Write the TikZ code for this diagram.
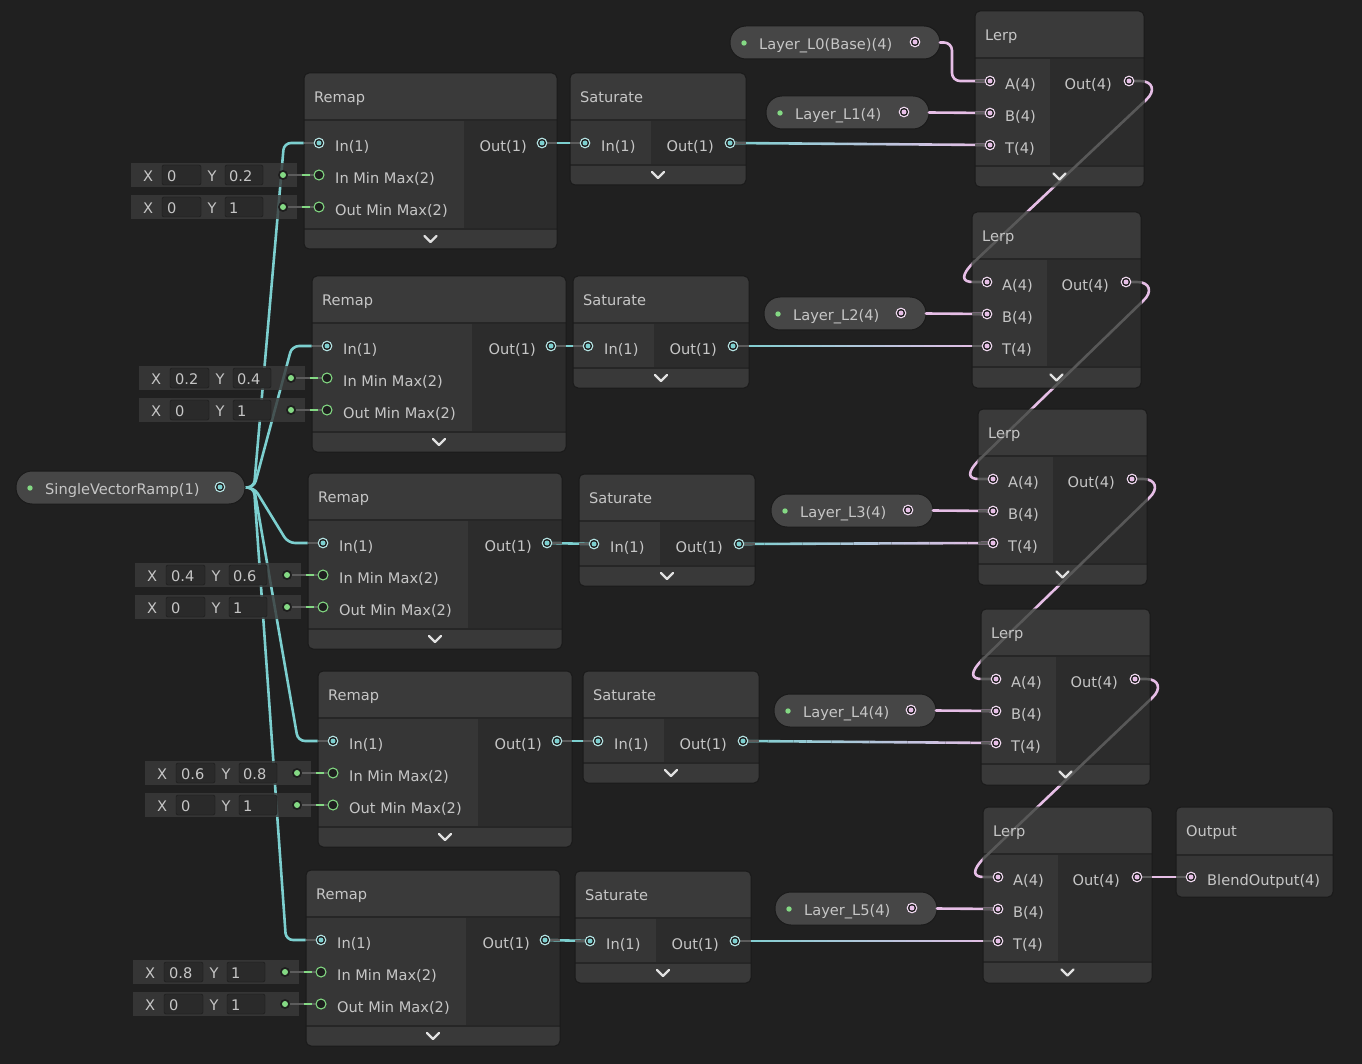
\documentclass[tikz,border=0pt]{standalone}
\usepackage{fontspec}
\setmainfont{DejaVu Sans}
\usetikzlibrary{calc}
\definecolor{bgc}{HTML}{202020}
\definecolor{headc}{HTML}{3A3A3A}
\definecolor{leftc}{HTML}{363636}
\definecolor{rightc}{HTML}{2C2C2C}
\definecolor{footc}{HTML}{393939}
\definecolor{sepc}{HTML}{262626}
\definecolor{bordc}{HTML}{1A1A1A}
\definecolor{txtc}{HTML}{C6C6C6}
\definecolor{pillc}{HTML}{464646}
\definecolor{barc}{HTML}{3A3A3A}
\definecolor{boxc}{HTML}{2A2A2A}
\definecolor{wcyan}{HTML}{7CCFCF}
\definecolor{wpink}{HTML}{E6BEE6}
\definecolor{wgreen}{HTML}{84D984}
\definecolor{stubc}{HTML}{5C5C5C}
\definecolor{chainc}{HTML}{585858}
\definecolor{portbg}{HTML}{1E1E1E}

\pgfdeclarelayer{back}
\pgfdeclarelayer{chain}
\pgfdeclarelayer{svr}
\pgfdeclarelayer{body}
\pgfdeclarelayer{wires}
\pgfdeclarelayer{stubs}
\pgfsetlayers{back,chain,svr,body,wires,stubs,main}

\tikzset{
 lbl/.style={font=\fontsize{14.6}{17}\selectfont, text=txtc, inner sep=0pt, text height=10.6pt, text depth=0pt},
 wire/.style={line width=2.6pt, line cap=round},
 cwire/.style={wire, draw=wcyan},
 pwire/.style={wire, draw=wpink},
 stub/.style={line width=2.6pt, draw=stubc},
 chev/.style={draw=white!88!black, line width=2.4pt, line cap=round, line join=round},
 frame/.style={inner sep=0pt, outer sep=0pt, draw=none},
}

\newcommand\pglyph[2]{%
 \fill[portbg] (#1) circle (5.4pt);
 \draw[#2!55!white, line width=1.1pt] (#1) circle (4.8pt);
 \fill[#2] (#1) circle (2.5pt);}
\newcommand\gport[1]{%
 \fill[portbg] (#1) circle (5.6pt);
 \draw[wgreen, line width=1.1pt] (#1) circle (5pt);}

% name x1 y1 x2 y2 split footerh title
\newcommand\gnode[8]{%
 \begin{pgfonlayer}{body}
  \begin{scope}
   \clip[rounded corners=5pt] (#2,#3) rectangle (#4,#5);
   \fill[rightc] (#2,#3) rectangle (#4,#5);
   \fill[leftc] (#2,{#3+47}) rectangle (#6,{#5-#7});
   \fill[headc] (#2,#3) rectangle (#4,{#3+47});
   \fill[footc] (#2,{#5-#7}) rectangle (#4,#5);
   \draw[sepc, line width=1.5pt] (#2,{#3+47}) -- (#4,{#3+47});
   \draw[sepc, line width=1.5pt] (#2,{#5-#7}) -- (#4,{#5-#7});
  \end{scope}
  \draw[bordc, line width=1pt, rounded corners=5pt] (#2,#3) rectangle (#4,#5);
 \end{pgfonlayer}
 \node[frame, anchor=north west, minimum width={(#4-#2)*1pt}, minimum height={(#5-#3)*1pt}] (#1) at (#2,#3) {};
 \node[lbl, anchor=west] at ({#2+10},{#3+24}) {#8};
 \draw[chev] ({(#2+#4)/2-6},{#5-#7/2-3}) -- ({(#2+#4)/2},{#5-#7/2+3}) -- ({(#2+#4)/2+6},{#5-#7/2-3});
}

\newcommand\remapnode[5]{%
 \gnode{#1}{#2}{#3}{#4}{#3+176}{#5}{20}{Remap}
 \coordinate (#1in) at ({#2+15},{#3+70});
 \coordinate (#1imm) at ({#2+15},{#3+102});
 \coordinate (#1omm) at ({#2+15},{#3+134});
 \coordinate (#1out) at ({#4-15},{#3+70});
 \node[lbl, anchor=west] at ($(#1in)+(16,3)$) {In(1)};
 \node[lbl, anchor=west] at ($(#1imm)+(16,3)$) {In Min Max(2)};
 \node[lbl, anchor=west] at ($(#1omm)+(16,3)$) {Out Min Max(2)};
 \node[lbl, anchor=east] at ($(#1out)+(-15,3)$) {Out(1)};
 \begin{pgfonlayer}{stubs}
  \draw[stub] (#1in) -- (#1in -| #1.west);
  \draw[stub] (#1out) -- (#1out -| #1.east);
 \end{pgfonlayer}
 \pglyph{#1in}{wcyan}
 \pglyph{#1out}{wcyan}
}

\newcommand\satnode[3]{%
 \gnode{#1}{#2}{#3}{#2+176}{#3+112}{#2+81}{20}{Saturate}
 \coordinate (#1in) at ({#2+15},{#3+70});
 \coordinate (#1out) at ({#2+160},{#3+70});
 \node[lbl, anchor=west] at ($(#1in)+(16,3)$) {In(1)};
 \node[lbl, anchor=east] at ($(#1out)+(-16,3)$) {Out(1)};
 \begin{pgfonlayer}{stubs}
  \draw[stub] (#1in) -- (#1in -| #1.west);
  \draw[stub] (#1out) -- (#1out -| #1.east);
 \end{pgfonlayer}
 \pglyph{#1in}{wcyan}
 \pglyph{#1out}{wcyan}
}

\newcommand\lerpnode[3]{%
 \gnode{#1}{#2}{#3}{#2+169}{#3+176}{#2+75}{21}{Lerp}
 \coordinate (#1A) at ({#2+15},{#3+70});
 \coordinate (#1B) at ({#2+15},{#3+102});
 \coordinate (#1T) at ({#2+15},{#3+134});
 \coordinate (#1out) at ({#2+154},{#3+70});
 \foreach \pp/\lname in {A/A(4),B/B(4),T/T(4)}{%
  \node[lbl, anchor=west] at ($(#1\pp)+(15,3)$) {\lname};
  \begin{pgfonlayer}{stubs}\draw[stub] (#1\pp) -- (#1\pp -| #1.west);\end{pgfonlayer}
  \pglyph{#1\pp}{wpink}}
 \node[lbl, anchor=east] at ($(#1out)+(-17,3)$) {Out(4)};
 \begin{pgfonlayer}{stubs}\draw[stub] (#1out) -- (#1out -| #1.east);\end{pgfonlayer}
 \pglyph{#1out}{wpink}
}

% name x1 y1 x2 text portcolour
\newcommand\pillnode[6]{%
 \begin{pgfonlayer}{body}
  \fill[pillc, draw=bordc, line width=1pt, rounded corners=16pt] (#2,#3) rectangle (#4,{#3+33});
 \end{pgfonlayer}
 \node[frame, anchor=north west, minimum width={(#4-#2)*1pt}, minimum height=33pt] (#1) at (#2,#3) {};
 \fill[wgreen] ({#2+14},{#3+17}) circle (2.7pt);
 \node[lbl, anchor=west] at ({#2+29},{#3+18}) {#5};
 \coordinate (#1p) at ({#4-25},{#3+16});
 \pglyph{#1p}{#6}
}

% port, name, xval, yval
\newcommand\vfield[4]{%
 \begin{pgfonlayer}{body}
  \fill[barc, fill opacity=0.82] ($(#1)+(-188,-12)$) rectangle ($(#1)+(-22,12)$);
 \end{pgfonlayer}
 \node[frame, anchor=west, minimum width=166pt, minimum height=24pt] (#2) at ($(#1)+(-188,0)$) {};
 \node[lbl, anchor=center] at ($(#1)+(-171,1)$) {X};
 \fill[boxc, draw=bordc, rounded corners=2pt] ($(#1)+(-157,-10)$) rectangle ($(#1)+(-118,10)$);
 \node[lbl, anchor=west] at ($(#1)+(-152,1)$) {#3};
 \node[lbl, anchor=center] at ($(#1)+(-107,1)$) {Y};
 \fill[boxc, draw=bordc, rounded corners=2pt] ($(#1)+(-94,-10)$) rectangle ($(#1)+(-56,10)$);
 \node[lbl, anchor=west] at ($(#1)+(-90,1)$) {#4};
 \coordinate (#2d) at ($(#1)+(-36,0)$);
 \begin{pgfonlayer}{wires}
  \draw[stub] (#2d) -- (#1);
  \draw[wgreen, line width=2.6pt] ($(#1)+(-17,0)$) -- ($(#1)+(-9,0)$);
 \end{pgfonlayer}
 \fill[portbg] (#2d) circle (5pt);
 \fill[wgreen] (#2d) circle (3pt);
 \gport{#1}
}

\newcommand\gwire[2]{%
 \foreach \gk in {0,...,19}{%
  \pgfmathsetmacro\gta{\gk/20}%
  \pgfmathsetmacro\gtb{(\gk+1)/20}%
  \pgfmathtruncatemacro\gpc{100-5*\gk-2.5}%
  \draw[wire, line cap=butt, draw=wcyan!\gpc!wpink] ($(#1)!\gta!(#2)$) -- ($(#1)!\gtb!(#2)$);}}

% chain wire path from an Out port to the next A port
\newcommand\chainpath[2]{%
 (#1) -- ($(#1)+(11,0)$) .. controls ($(#1)+(24,0)$) and ($(#1)+(27,10)$) .. ($(#1)+(17,19)$)
 -- ($(#2)+(-13,-20)$) .. controls ($(#2)+(-27,-6)$) and ($(#2)+(-25,0)$) .. ($(#2)+(-14,0)$) -- (#2)}

\begin{document}
\begin{tikzpicture}[x=1pt,y=-1pt]
\useasboundingbox (0,0) rectangle (1362,1064);
\begin{pgfonlayer}{back}
 \fill[bgc] (0,0) rectangle (1362,1064);
\end{pgfonlayer}

% ---- nodes
\remapnode{R1}{304}{73}{557}{464}
\remapnode{R2}{312}{276}{566}{472}
\remapnode{R3}{308}{473}{562}{468}
\remapnode{R4}{318}{671}{572}{478}
\remapnode{R5}{306}{870}{560}{466}

\satnode{S1}{570}{73}
\satnode{S2}{573}{276}
\satnode{S3}{579}{474}
\satnode{S4}{583}{671}
\satnode{S5}{575}{871}

\lerpnode{L1}{975}{11}
\lerpnode{L2}{972}{212}
\lerpnode{L3}{978}{409}
\lerpnode{L4}{981}{609}
\lerpnode{L5}{983}{807}

\pillnode{P0}{730}{26}{940}{Layer\_L0(Base)(4)}{wpink}
\pillnode{P1}{766}{96}{929}{Layer\_L1(4)}{wpink}
\pillnode{P2}{764}{297}{926}{Layer\_L2(4)}{wpink}
\pillnode{P3}{771}{494}{933}{Layer\_L3(4)}{wpink}
\pillnode{P4}{774}{694}{936}{Layer\_L4(4)}{wpink}
\pillnode{P5}{775}{892}{937}{Layer\_L5(4)}{wpink}
\pillnode{svr}{16}{471}{245}{SingleVectorRamp(1)}{wcyan}

\vfield{R1imm}{V1a}{0}{0.2}
\vfield{R1omm}{V1b}{0}{1}
\vfield{R2imm}{V2a}{0.2}{0.4}
\vfield{R2omm}{V2b}{0}{1}
\vfield{R3imm}{V3a}{0.4}{0.6}
\vfield{R3omm}{V3b}{0}{1}
\vfield{R4imm}{V4a}{0.6}{0.8}
\vfield{R4omm}{V4b}{0}{1}
\vfield{R5imm}{V5a}{0.8}{1}
\vfield{R5omm}{V5b}{0}{1}

% Output node
\begin{pgfonlayer}{body}
 \begin{scope}
  \clip[rounded corners=5pt] (1176,807) rectangle (1333,897);
  \fill[leftc] (1176,807) rectangle (1333,897);
  \fill[headc] (1176,807) rectangle (1333,855);
  \draw[sepc, line width=1.5pt] (1176,855) -- (1333,855);
 \end{scope}
 \draw[bordc, line width=1pt, rounded corners=5pt] (1176,807) rectangle (1333,897);
\end{pgfonlayer}
\node[frame, anchor=north west, minimum width=157pt, minimum height=90pt] (OUT) at (1176,807) {};
\node[lbl, anchor=west] at (1186,831) {Output};
\coordinate (Oin) at (1191,877);
\node[lbl, anchor=west] at (1207,880) {BlendOutput(4)};
\begin{pgfonlayer}{stubs}\draw[stub] (Oin) -- (Oin -| OUT.west);\end{pgfonlayer}
\pglyph{Oin}{wpink}

% ---- wires from the ramp
\begin{pgfonlayer}{svr}
 \draw[cwire, rounded corners=7pt] (svr.east) -- ($(svr.east)+(9,0)$) -- ($(R1in)+(-35,0)$) -- (R1in);
 \draw[cwire, rounded corners=7pt] (svr.east) -- ($(svr.east)+(9,0)$) -- ($(R2in)+(-35,0)$) -- (R2in);
 \draw[cwire, rounded corners=7pt] (svr.east) -- ($(svr.east)+(9,0)$) -- ($(R3in)+(-35,0)$) -- (R3in);
 \draw[cwire, rounded corners=7pt] (svr.east) -- ($(svr.east)+(9,0)$) -- ($(R4in)+(-35,0)$) -- (R4in);
 \draw[cwire, rounded corners=7pt] (svr.east) -- ($(svr.east)+(9,0)$) -- ($(R5in)+(-35,0)$) -- (R5in);
\end{pgfonlayer}

% ---- Lerp chain (under nodes)
\begin{pgfonlayer}{chain}
 \draw[pwire] \chainpath{L1out}{L2A};
 \draw[pwire] \chainpath{L2out}{L3A};
 \draw[pwire] \chainpath{L3out}{L4A};
 \draw[pwire] \chainpath{L4out}{L5A};
\end{pgfonlayer}

\begin{pgfonlayer}{wires}
 \begin{scope}
  \clip (L1.north west) rectangle (L1.south east) (L2.north west) rectangle (L2.south east)
        (L3.north west) rectangle (L3.south east) (L4.north west) rectangle (L4.south east)
        (L5.north west) rectangle (L5.south east);
  \draw[wire, draw=chainc] \chainpath{L1out}{L2A};
  \draw[wire, draw=chainc] \chainpath{L2out}{L3A};
  \draw[wire, draw=chainc] \chainpath{L3out}{L4A};
  \draw[wire, draw=chainc] \chainpath{L4out}{L5A};
 \end{scope}
 % Remap -> Saturate
 \draw[cwire] (R1out) -- (S1in);
 \draw[cwire] (R2out) -- (S2in);
 \draw[cwire] (R3out) -- (S3in);
 \draw[cwire] (R4out) -- (S4in);
 \draw[cwire] (R5out) -- (S5in);
 % Saturate -> Lerp T
 \gwire{S1out}{L1T}
 \gwire{S2out}{L2T}
 \gwire{S3out}{L3T}
 \gwire{S4out}{L4T}
 \gwire{S5out}{L5T}
 % layers -> Lerp
 \draw[pwire, rounded corners=8pt] (P0.east) -- ($(P0.east)+(12,0)$) |- (L1A);
 \draw[pwire] (P1.east) -- (L1B);
 \draw[pwire] (P2.east) -- (L2B);
 \draw[pwire] (P3.east) -- (L3B);
 \draw[pwire] (P4.east) -- (L4B);
 \draw[pwire] (P5.east) -- (L5B);
 \draw[pwire] (L5out) -- (Oin);
\end{pgfonlayer}
\end{tikzpicture}
\end{document}
